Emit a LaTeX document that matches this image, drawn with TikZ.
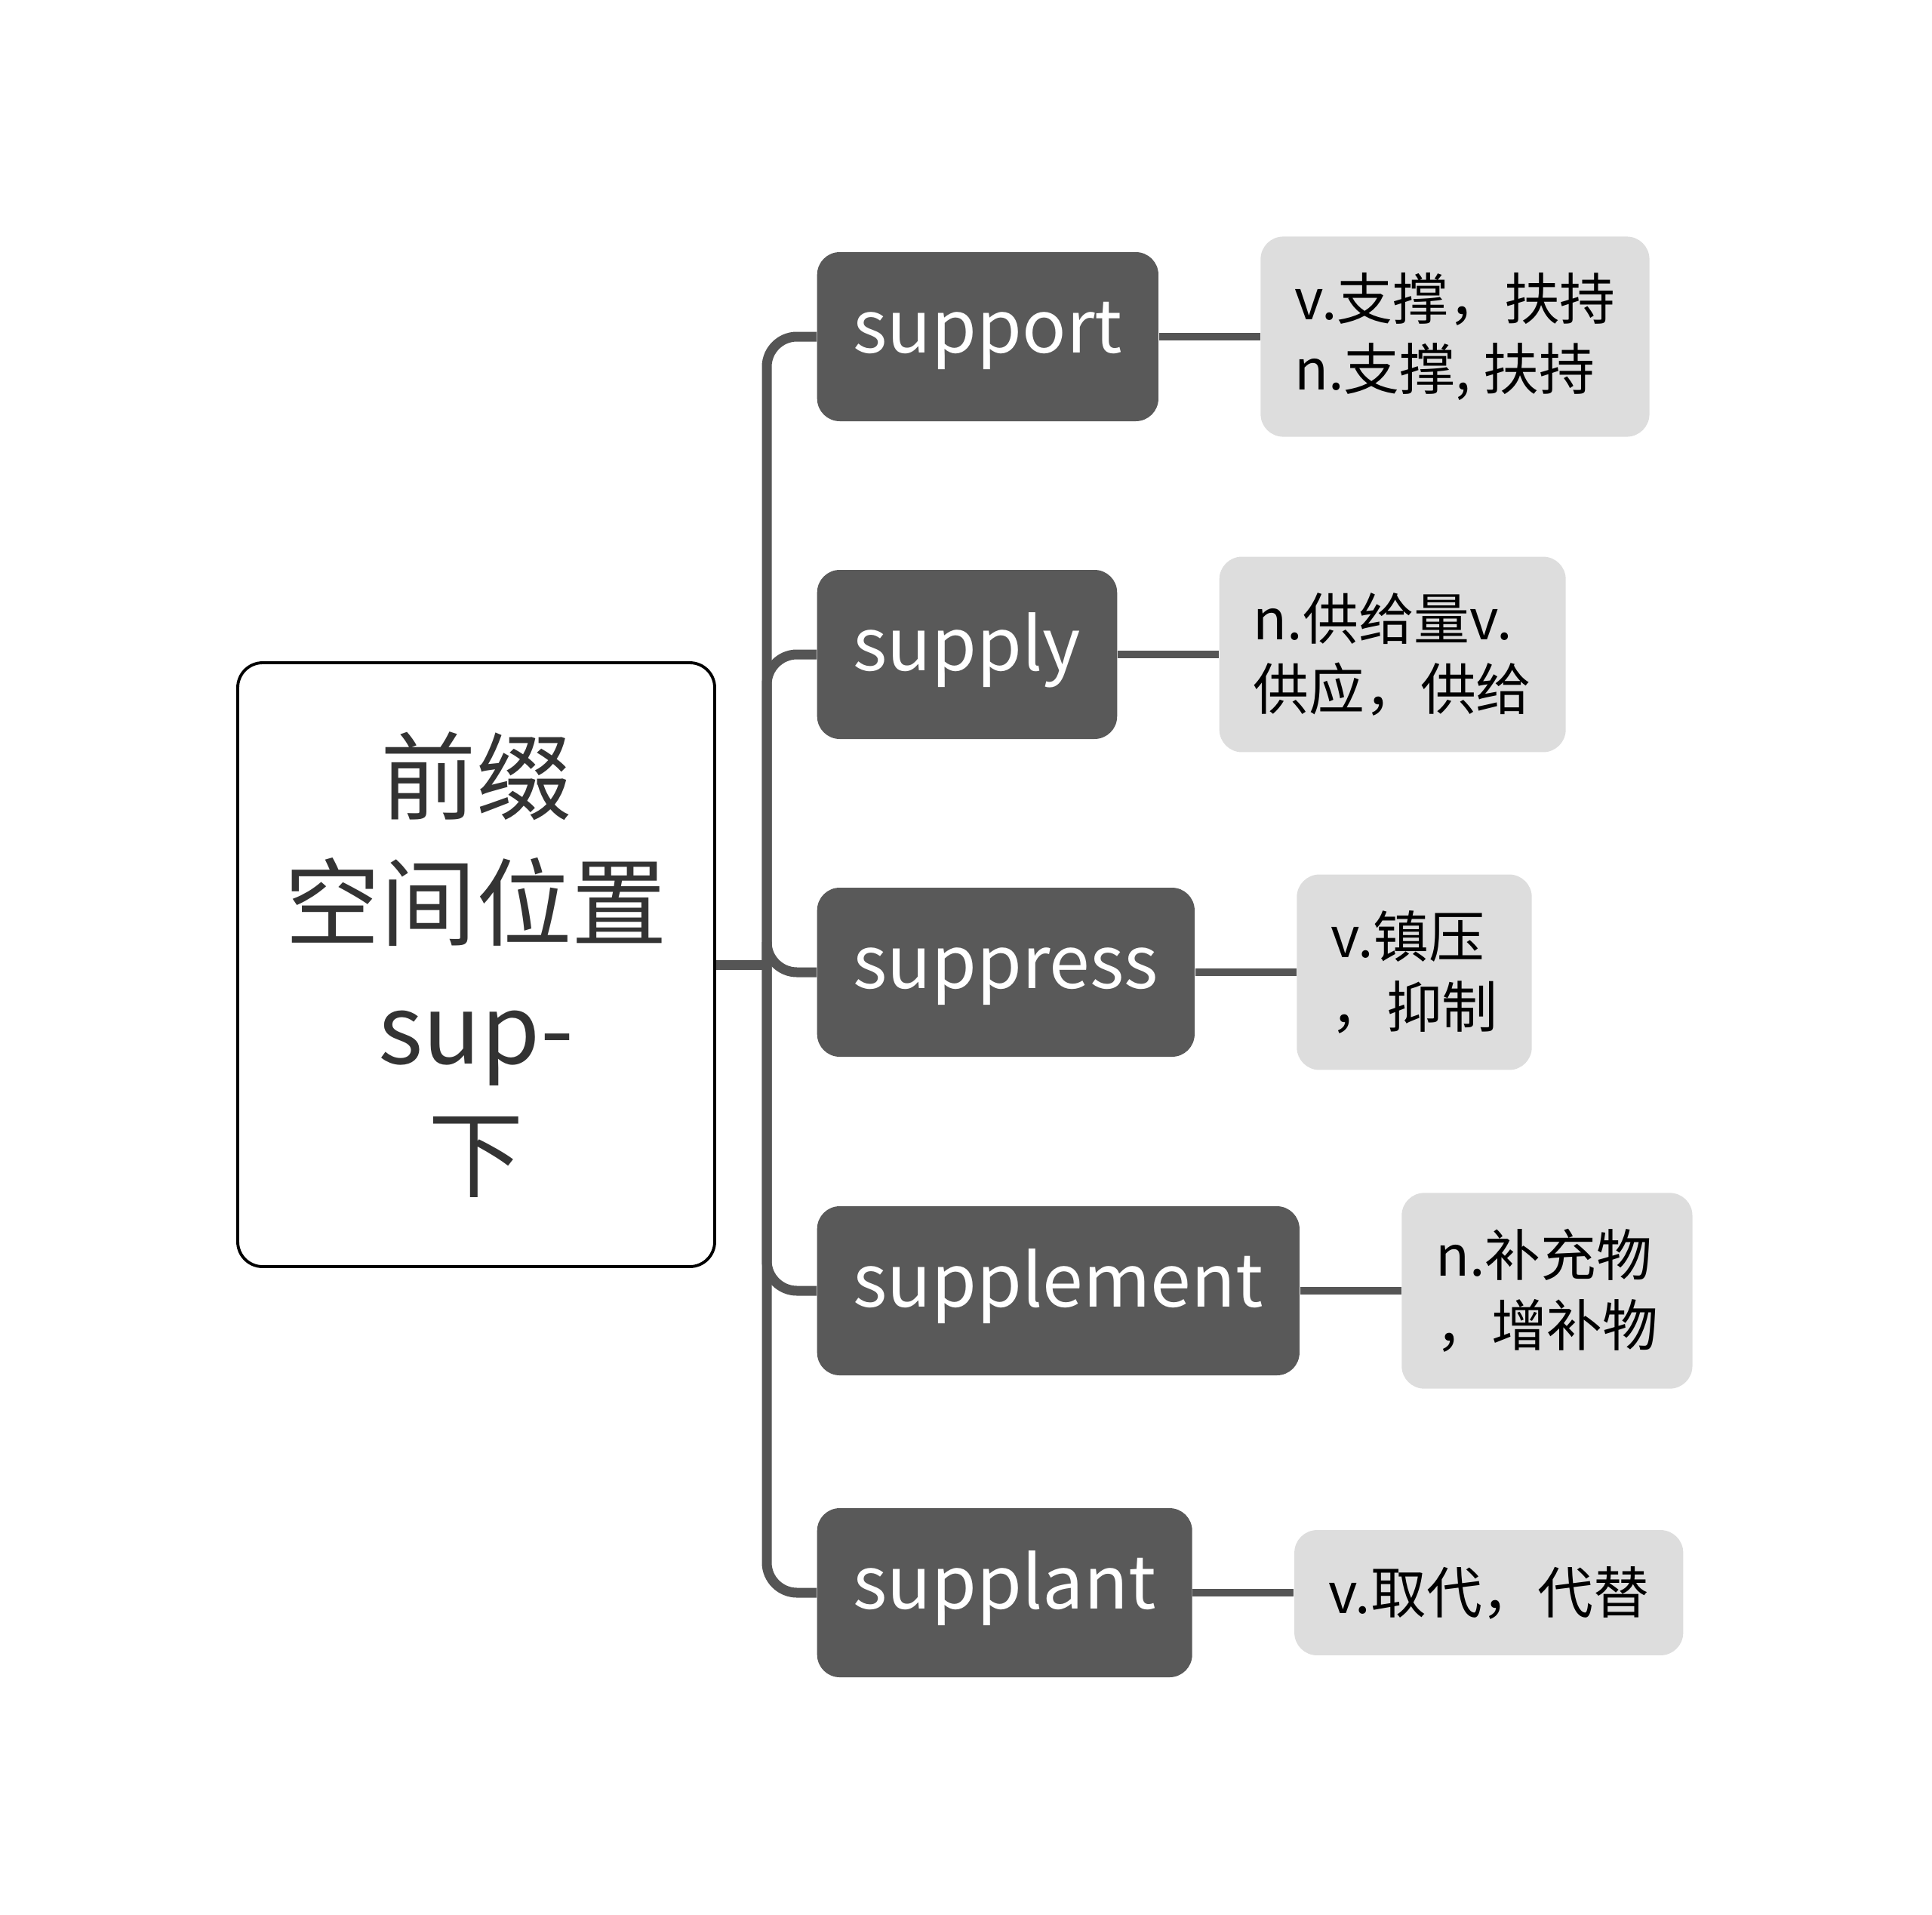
\documentclass[tikz,border=0pt]{standalone}
\usepackage{fontspec}
\setmainfont{Noto Sans CJK SC}
\usetikzlibrary{positioning}
\definecolor{rootgray}{HTML}{333333}
\definecolor{wordgray}{HTML}{595959}
\definecolor{leafgray}{HTML}{DDDDDD}
\definecolor{linegray}{HTML}{555555}

\begin{document}
\begin{tikzpicture}[
    node distance=1.34cm,
    root/.style={draw=black, line width=1.1pt, rounded corners=0.33cm, fill=white, align=center, minimum width=6.32cm, minimum height=8cm, text=rootgray, font=\fontsize{36pt}{47.5pt}\selectfont},
    word/.style={fill=wordgray, rounded corners=0.3cm, text=white, anchor=west, minimum height=2.24cm, inner xsep=0.48cm, text height=20pt, text depth=8pt, font=\fontsize{27.5pt}{33pt}\selectfont},
    gloss/.style={fill=leafgray, rounded corners=0.3cm, align=left, inner xsep=0.45cm, inner ysep=0.48cm, font=\fontsize{21pt}{26.5pt}\selectfont},
    branch/.style={draw=linegray, line width=3.7pt, rounded corners=0.4cm},
    link/.style={draw=linegray, line width=2.8pt}
]
\useasboundingbox (0,0) rectangle (25.6,-25.37);
\node[root] (root) at (6.31,-12.78) {前缀\\空间位置\\sup-\\下};
\node[word] (support) at (10.82,-4.46) {support};
\node[word] (supply) at (10.82,-8.67) {supply};
\node[word] (suppress) at (10.82,-12.88) {suppress};
\node[word] (supplement) at (10.82,-17.10) {supplement};
\node[word] (supplant) at (10.82,-21.10) {supplant};
\node[gloss, right=of support] (supportdef) {v.支撑，扶持\\n.支撑, 扶持};
\node[gloss, right=of supply] (supplydef) {n.供给量v.\\供应，供给};
\node[gloss, right=of suppress] (suppressdef) {v.镇压\\，抑制};
\node[gloss, right=of supplement] (supplementdef) {n.补充物\\，增补物};
\node[gloss, right=of supplant] (supplantdef) {v.取代，代替};
\coordinate (fork) at (10.16,-12.78);
\draw[branch] (root.east) -- (fork);
\foreach \w in {support,supply,suppress,supplement,supplant}
    \draw[branch] (fork) |- (\w.west);
\foreach \w in {support,supply,suppress,supplement,supplant}
    \draw[link] (\w) -- (\w def);
\end{tikzpicture}
\end{document}
